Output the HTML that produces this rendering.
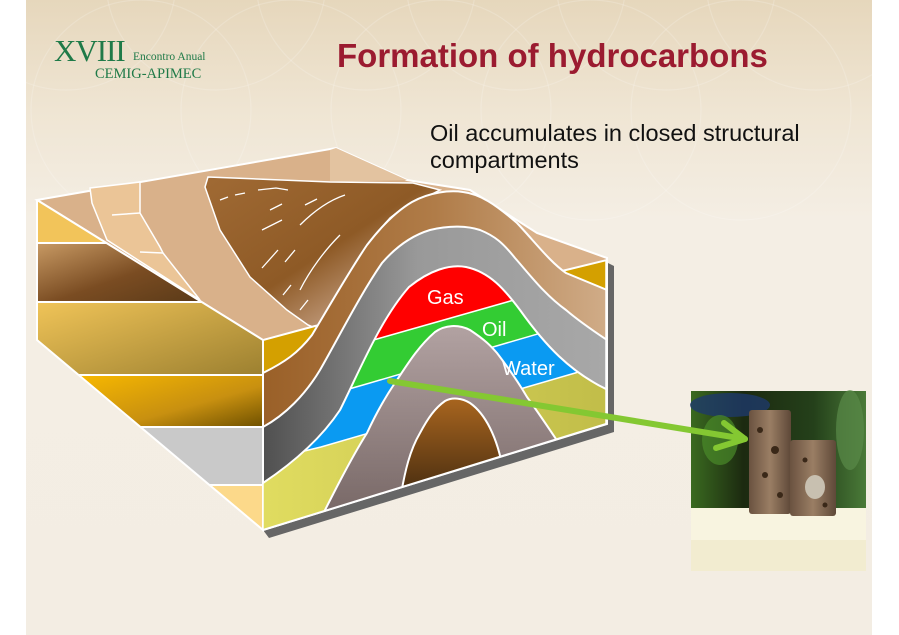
<!DOCTYPE html>
<html><head><meta charset="utf-8">
<style>
html,body{margin:0;padding:0;width:899px;height:635px;overflow:hidden;background:#fff}
.slide{position:absolute;left:26px;top:0;width:846px;height:635px;
background:linear-gradient(180deg,#e6d7bc 0px,#efe5d3 110px,#f4eee4 220px,#f3ede3 635px);overflow:hidden}
.t{position:absolute;white-space:nowrap}
</style></head><body>
<div class="slide">
<svg width="846" height="635" style="position:absolute;left:0;top:0">
<g fill="none" stroke="#fff" stroke-opacity="0.18" stroke-width="1.2">
<circle cx="40" cy="-20" r="110"/><circle cx="190" cy="-20" r="110"/><circle cx="340" cy="-20" r="110"/><circle cx="490" cy="-20" r="110"/><circle cx="640" cy="-20" r="110"/><circle cx="790" cy="-20" r="110"/>
<circle cx="115" cy="110" r="110"/><circle cx="265" cy="110" r="110"/><circle cx="415" cy="110" r="110"/><circle cx="565" cy="110" r="110"/><circle cx="715" cy="110" r="110"/>
</g>
</svg>
</div>
<svg width="899" height="635" style="position:absolute;left:0;top:0">
<defs>
<linearGradient id="gBr" x1="0" y1="0" x2="1" y2="1"><stop offset="0" stop-color="#c89a64"/><stop offset="0.55" stop-color="#7a4c22"/><stop offset="1" stop-color="#5a3a18"/></linearGradient>
<linearGradient id="gGold" x1="0" y1="0" x2="1" y2="1"><stop offset="0" stop-color="#f0c458"/><stop offset="1" stop-color="#9c8030"/></linearGradient>
<linearGradient id="gOr" x1="0" y1="0" x2="1" y2="1"><stop offset="0" stop-color="#f7b800"/><stop offset="0.6" stop-color="#c89010"/><stop offset="1" stop-color="#6e5000"/></linearGradient>
<linearGradient id="gFold" x1="0" y1="0" x2="1" y2="0"><stop offset="0" stop-color="#9a6028"/><stop offset="0.5" stop-color="#b07c48"/><stop offset="1" stop-color="#d0ac88"/></linearGradient>
<linearGradient id="gGray" x1="0" y1="0" x2="1" y2="0"><stop offset="0" stop-color="#505050"/><stop offset="0.45" stop-color="#999"/><stop offset="1" stop-color="#a8a8a8"/></linearGradient>
<linearGradient id="gRidge" x1="0" y1="0" x2="1" y2="1"><stop offset="0" stop-color="#a06a34"/><stop offset="0.5" stop-color="#8e5a26"/><stop offset="0.8" stop-color="#c8a488"/><stop offset="1" stop-color="#a87a50"/></linearGradient>
<linearGradient id="gTaupe" x1="0" y1="0" x2="0" y2="1"><stop offset="0" stop-color="#b2a2a2"/><stop offset="1" stop-color="#6a5a58"/></linearGradient>
<linearGradient id="gCore" x1="0" y1="0" x2="0" y2="1"><stop offset="0" stop-color="#a8651f"/><stop offset="1" stop-color="#2e1e0c"/></linearGradient>
<linearGradient id="gYel" x1="0" y1="0" x2="1" y2="0"><stop offset="0" stop-color="#e0dc60"/><stop offset="1" stop-color="#c0bc48"/></linearGradient>
<clipPath id="cf"><polygon points="263,0 263,530 606,424 606,0"/></clipPath>
<clipPath id="cg"><path d="M263,483 C290,465 320,440 340,410 C360,370 380,320 409,287 C430,270 450,264 466,267 C490,272 505,290 520,310 C545,345 570,372 608,390 L608,430 L263,540 Z"/></clipPath>
<linearGradient id="gPh" x1="0" y1="0" x2="1" y2="0"><stop offset="0" stop-color="#3a6a20"/><stop offset="0.3" stop-color="#1c2a10"/><stop offset="0.7" stop-color="#24401a"/><stop offset="1" stop-color="#4a7a38"/></linearGradient>
<linearGradient id="gRock" x1="0" y1="0" x2="1" y2="0"><stop offset="0" stop-color="#6a5240"/><stop offset="0.5" stop-color="#9a7e64"/><stop offset="1" stop-color="#5e4838"/></linearGradient>
</defs>

<!-- shadow -->
<polygon points="606,262 614,266 614,432 269,538 263,530 606,424" fill="#666"/>

<!-- top surface -->
<polygon points="37,200 336,148 407,180 470,190 537,233 607,258 607,424 263,530 263,340" fill="#d9b18a" stroke="#fff" stroke-width="2"/>
<polygon points="336,148 407,180 330,182 330,150" fill="#e3c3a0"/>
<!-- light slab -->
<polygon points="90,188 140,182 140,213 160,247 163,253 200,300 107,240 92,203" fill="#ebc597" stroke="#fff" stroke-width="1.5"/>
<polyline points="112,215 140,213" fill="none" stroke="#fff" stroke-width="1.5"/>
<polyline points="140,252 163,253" fill="none" stroke="#fff" stroke-width="1.5"/>
<!-- ridge -->
<path d="M208,177 L330,182 L413,183 L440,190 L430,195 C415,200 400,210 390,218 C370,240 350,270 336,300 L320,330 L308,325 L287,310 L250,277 L220,230 L205,187 Z" fill="url(#gRidge)" stroke="#fff" stroke-width="1.5"/>
<g stroke="#fff" stroke-width="1.3" fill="none">
<path d="M220,200 l8,-3 M235,195 l10,-2 M258,190 l18,-2 l12,2 M270,210 l12,-6 M305,205 l12,-6 M262,230 l20,-10 M300,225 C315,210 330,200 345,195 M262,268 L278,250 M285,262 l10,-12 M300,290 C310,270 325,250 340,235 M283,295 l8,-10 M300,310 l8,-10"/>
</g>

<!-- left face -->
<polygon points="37,200 263,340 263,530 37,340" fill="#ccc"/>
<polygon points="37,200 107,243 37,243" fill="#f2c45a"/>
<polygon points="37,243 107,243 202,302 37,302" fill="url(#gBr)"/>
<polygon points="37,302 202,302 263,340 263,375 79,375 37,340" fill="url(#gGold)"/>
<polygon points="79,375 263,375 263,427 140,427" fill="url(#gOr)"/>
<polygon points="140,427 263,427 263,485 209,485" fill="#c9c9c9"/>
<polygon points="209,485 263,485 263,530" fill="#fcd98a"/>
<g stroke="#fff" stroke-width="2" fill="none">
<line x1="37" y1="243" x2="107" y2="243"/><line x1="37" y1="302" x2="202" y2="302"/><line x1="79" y1="375" x2="263" y2="375"/><line x1="140" y1="427" x2="263" y2="427"/><line x1="209" y1="485" x2="263" y2="485"/>
<polyline points="37,200 263,340 263,530 37,340 37,200"/>
</g>

<!-- front face -->
<g clip-path="url(#cf)">
<path d="M263,340 L315,326 L566,270 L607,260 L607,430 L263,540 Z" fill="#d4a000" stroke="#fff" stroke-width="2"/>
<path d="M263,373 C285,362 298,353 312,335 C330,305 350,270 367,245 C380,228 395,212 412,202 C430,192 450,190 463,192 C480,194 495,204 517,223 C535,242 550,262 566,273 L607,290 L607,430 L263,540 Z" fill="url(#gFold)" stroke="#fff" stroke-width="2"/>
<path d="M263,427 C285,415 305,395 320,370 C340,335 360,295 382,263 C395,248 410,236 430,230 C450,225 468,226 480,230 C495,236 503,243 515,258 C530,275 545,295 566,310 C580,322 595,332 607,340 L607,430 L263,540 Z" fill="url(#gGray)" stroke="#fff" stroke-width="2"/>
<g clip-path="url(#cg)">
<rect x="263" y="240" width="350" height="300" fill="#ff0000"/>
<polygon points="300,361 384,337 507,302 620,269 620,540 263,540" fill="#33cc33" stroke="#fff" stroke-width="1.5"/>
<polygon points="300,403 363,385 493,347 620,310 620,540 263,540" fill="#0a9af2" stroke="#fff" stroke-width="1.5"/>
<polygon points="263,461 321,447 527,387 620,360 620,540 263,540" fill="url(#gYel)" stroke="#fff" stroke-width="1.5"/>
</g>
<path d="M263,483 C290,465 320,440 340,410 C360,370 380,320 409,287 C430,270 450,264 466,267 C490,272 505,290 520,310 C545,345 570,372 608,390" fill="none" stroke="#fff" stroke-width="2"/>
<path d="M315,530 C330,500 350,460 367,433 C380,405 390,390 397,380 C410,360 420,345 435,332 C445,325 458,324 470,330 C485,340 490,345 497,353 C510,370 520,385 527,397 C540,415 550,430 560,445 L600,440 L600,560 L300,560 Z" fill="url(#gTaupe)" stroke="#fff" stroke-width="2"/>
<path d="M400,500 C405,470 410,450 420,433 C428,418 435,408 445,401 C452,397 462,398 470,403 C480,410 486,420 490,428 C496,440 500,452 503,470 L503,520 L400,520 Z" fill="url(#gCore)" stroke="#fff" stroke-width="2"/>
</g>
<line x1="263" y1="530" x2="606" y2="424" stroke="#fff" stroke-width="2"/>
<line x1="606" y1="260" x2="606" y2="424" stroke="#fff" stroke-width="1.5"/>

<!-- labels -->
<g font-family="Liberation Sans, sans-serif" font-size="20" fill="#fff">
<text x="427" y="304">Gas</text>
<text x="482" y="336">Oil</text>
<text x="502" y="375">Water</text>
</g>

<!-- photo -->
<rect x="691" y="391" width="175" height="180" fill="url(#gPh)"/>
<ellipse cx="730" cy="405" rx="40" ry="12" fill="#1e3a6a" opacity="0.8"/>
<ellipse cx="720" cy="440" rx="18" ry="25" fill="#4a8a2a" opacity="0.7"/>
<ellipse cx="850" cy="430" rx="14" ry="40" fill="#5a8a48" opacity="0.7"/>
<rect x="691" y="508" width="175" height="63" fill="#f8f4e0"/>
<rect x="691" y="540" width="175" height="31" fill="#f2ecd0"/>
<rect x="749" y="410" width="42" height="104" rx="3" fill="url(#gRock)"/>
<rect x="790" y="440" width="46" height="76" rx="3" fill="url(#gRock)"/>
<ellipse cx="815" cy="487" rx="10" ry="12" fill="#c8c0b0"/>
<g fill="#3a2818"><circle cx="760" cy="430" r="3"/><circle cx="775" cy="450" r="4"/><circle cx="765" cy="475" r="3"/><circle cx="780" cy="495" r="3"/><circle cx="805" cy="460" r="2.5"/><circle cx="825" cy="505" r="2.5"/></g>

<!-- arrow -->
<g stroke="#84c832" stroke-width="6" fill="none" stroke-linecap="round">
<line x1="390" y1="381" x2="745" y2="439"/>
<polyline points="724,423 745,439 716,448" stroke-linejoin="round"/>
</g>
</svg>

<div class="t" style="left:54px;top:33px;font-family:'Liberation Serif',serif;font-size:31px;color:#1f7a48;letter-spacing:-1px">XVIII</div>
<div class="t" style="left:133px;top:51px;font-family:'Liberation Serif',serif;font-size:11.5px;color:#1f7a48">Encontro Anual</div>
<div class="t" style="left:95px;top:66px;font-family:'Liberation Serif',serif;font-size:14.5px;color:#1f7a48">CEMIG-APIMEC</div>
<div class="t" style="left:337px;top:37px;font-family:'Liberation Sans',sans-serif;font-weight:bold;font-size:33px;color:#9b1b30">Formation of hydrocarbons</div>
<div class="t" style="left:430px;top:120px;font-family:'Liberation Sans',sans-serif;font-size:23.5px;color:#111;line-height:27px">Oil accumulates in closed structural<br>compartments</div>
</body></html>
